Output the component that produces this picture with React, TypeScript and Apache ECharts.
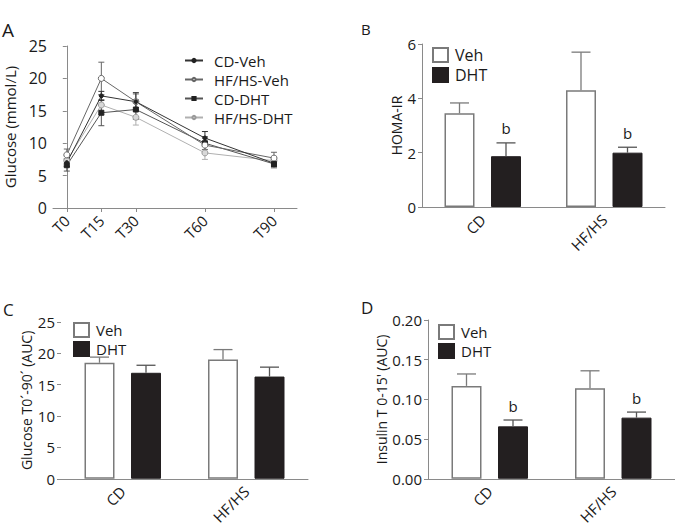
import React, { useEffect, useRef } from "react";
import * as echarts from "echarts";

// Panel A: glucose tolerance curve
const times = [0, 15, 30, 60, 90];
const timeLabels = ["T0", "T15", "T30", "T60", "T90"];
const cdVeh = [7.0, 17.3, 16.4, 10.8, 6.9];
const cdVehErr = [0.6, 0.7, 1.4, 1.0, 0.5];
const hfVeh = [8.2, 20.0, 16.4, 9.7, 7.7];
const hfVehErr = [0.9, 2.5, 1.2, 1.1, 0.9];
const cdDht = [6.6, 14.7, 15.2, 10.0, 6.8];
const cdDhtErr = [0.9, 2.0, 1.5, 1.0, 0.6];
const hfDht = [7.3, 15.9, 14.0, 8.5, 7.3];
const hfDhtErr = [0.7, 1.5, 1.2, 1.0, 0.7];

// Bar panels
const groups = ["CD", "HF/HS"];
const homaVeh = [3.45, 4.3];
const homaVehErr = [0.38, 1.4];
const homaDht = [1.87, 2.0];
const homaDhtErr = [0.49, 0.2];
const homaSig = ["b", "b"];

const gAucVeh = [18.5, 19.0];
const gAucVehErr = [0.9, 1.6];
const gAucDht = [16.9, 16.3];
const gAucDhtErr = [1.2, 1.5];
const gAucSig = ["", ""];

const insVeh = [0.117, 0.114];
const insVehErr = [0.015, 0.022];
const insDht = [0.066, 0.077];
const insDhtErr = [0.008, 0.007];
const insSig = ["b", "b"];

const FONT = "Open Sans";
const AX = "#8a8a8a";
const TXT = "#1a1a1a";

function lineErr(color: string) {
  return (params: any, api: any) => {
    const t = api.value(0);
    const v = api.value(1);
    const e = api.value(2);
    const top = api.coord([t, v + e]);
    const bot = api.coord([t, v - e]);
    const x = top[0];
    const st = { stroke: color, lineWidth: 1 };
    return {
      type: "group",
      children: [
        { type: "line", shape: { x1: x, y1: top[1], x2: x, y2: bot[1] }, style: st },
        { type: "line", shape: { x1: x - 3, y1: top[1], x2: x + 3, y2: top[1] }, style: st },
        { type: "line", shape: { x1: x - 3, y1: bot[1], x2: x + 3, y2: bot[1] }, style: st },
      ],
    };
  };
}

function barErr(offset: number, color: string, sig: string[] | null) {
  return (params: any, api: any) => {
    const c = api.value(0);
    const v = api.value(1);
    const e = api.value(2);
    const p0 = api.coord([c, v]);
    const p1 = api.coord([c, v + e]);
    const x = p0[0] + offset;
    const st = { stroke: color, lineWidth: 1.3 };
    const children: any[] = [
      { type: "line", shape: { x1: x, y1: p0[1], x2: x, y2: p1[1] }, style: st },
      { type: "line", shape: { x1: x - 9.5, y1: p1[1], x2: x + 9.5, y2: p1[1] }, style: st },
    ];
    const label = sig ? sig[params.dataIndex] : "";
    if (label) {
      children.push({
        type: "text",
        x: x,
        y: p1[1] - 7,
        style: {
          text: label,
          align: "center",
          verticalAlign: "bottom",
          fontSize: 15,
          fontFamily: FONT,
          fill: TXT,
        },
      });
    }
    return { type: "group", children };
  };
}

export default function App() {
  const ref = useRef<HTMLDivElement>(null);

  useEffect(() => {
    if (!ref.current) return;
    const chart = echarts.init(ref.current, undefined, { renderer: "svg" });

    const grids = [
      { left: 53, top: 46, width: 244, height: 162 },
      { left: 422, top: 44, width: 243, height: 163 },
      { left: 61, top: 322, width: 247, height: 161 },
      { left: 428, top: 320, width: 247, height: 162 },
    ];

    const baseY = (gi: number, min: number, max: number, interval: number, name: string, nameGap: number, fs: number, nfs: number, showLine = true, fmt?: any) => ({
      type: "value",
      gridIndex: gi,
      min,
      max,
      interval,
      name,
      nameLocation: "middle",
      nameGap,
      nameTextStyle: { fontSize: nfs, fontFamily: FONT, color: TXT },
      axisLine: { show: showLine, lineStyle: { color: AX, width: 1 } },
      axisTick: { show: true, length: 4, lineStyle: { color: AX } },
      axisLabel: { fontSize: fs, fontFamily: FONT, color: TXT, margin: 6, formatter: fmt },
      splitLine: { show: false },
    });

    const catX = (gi: number) => ({
      type: "category",
      gridIndex: gi,
      data: groups,
      axisLine: { lineStyle: { color: AX, width: 1 } },
      axisTick: { show: false },
      axisLabel: { rotate: 45, fontSize: 15, fontFamily: FONT, color: TXT, margin: 10 },
      splitLine: { show: false },
    });

    const vehStyle = { color: "#ffffff", borderColor: "#7a7a7a", borderWidth: 1.5 };
    const dhtStyle = { color: "#231f20", borderColor: "#231f20", borderWidth: 1 };

    const barPair = (gi: number, veh: number[], vehErr: number[], dht: number[], dhtErr: number[], sig: string[]) => [
      {
        type: "bar",
        name: "Veh",
        xAxisIndex: gi,
        yAxisIndex: gi,
        data: veh,
        barWidth: 30,
        barGap: "55%",
        itemStyle: vehStyle,
      },
      {
        type: "bar",
        name: "DHT",
        xAxisIndex: gi,
        yAxisIndex: gi,
        data: dht,
        barWidth: 30,
        barGap: "55%",
        itemStyle: dhtStyle,
      },
      {
        type: "custom",
        name: "errVeh" + gi,
        xAxisIndex: gi,
        yAxisIndex: gi,
        z: 5,
        renderItem: barErr(-23.25, "#7a7a7a", null),
        data: veh.map((v, i) => [i, v, vehErr[i]]),
      },
      {
        type: "custom",
        name: "errDht" + gi,
        xAxisIndex: gi,
        yAxisIndex: gi,
        z: 5,
        renderItem: barErr(23.25, "#555555", sig),
        data: dht.map((v, i) => [i, v, dhtErr[i]]),
      },
    ];

    const lineSeries = (name: string, vals: number[], errs: number[], color: string, symbol: string, size: number, symColor: string, borderColor: string) => [
      {
        type: "line",
        name,
        xAxisIndex: 0,
        yAxisIndex: 0,
        data: times.map((t, i) => [t, vals[i]]),
        symbol,
        symbolSize: size,
        lineStyle: { color, width: 1 },
        itemStyle: { color: symColor, borderColor, borderWidth: 1 },
        z: 4,
      },
      {
        type: "custom",
        name: name + "-err",
        xAxisIndex: 0,
        yAxisIndex: 0,
        renderItem: lineErr(color),
        data: times.map((t, i) => [t, vals[i], errs[i]]),
        z: 3,
      },
    ];

    const legendBar = (left: number, top: number, fs: number, gap: number) => ({
      data: ["Veh", "DHT"],
      orient: "vertical",
      left,
      top,
      icon: "rect",
      itemWidth: 15,
      itemHeight: 14,
      itemGap: gap,
      selectedMode: false,
      textStyle: { fontSize: fs, fontFamily: FONT, color: TXT, padding: [0, 0, 0, 2] },
      padding: 0,
    });

    const option: any = {
      animation: false,
      backgroundColor: "#ffffff",
      textStyle: { fontFamily: FONT },
      grid: grids,
      legend: [
        {
          data: ["CD-Veh", "HF/HS-Veh", "CD-DHT", "HF/HS-DHT"],
          orient: "vertical",
          left: 184,
          top: 53,
          itemWidth: 18,
          itemHeight: 4,
          itemGap: 4,
          selectedMode: false,
          padding: 0,
          textStyle: { fontSize: 15, lineHeight: 15, fontFamily: FONT, color: TXT, padding: [0, 0, 0, 6] },
        },
        legendBar(432, 47, 16, 4),
        legendBar(73, 322, 15, 3),
        legendBar(438, 324, 15, 3),
      ],
      xAxis: [
        {
          type: "value",
          gridIndex: 0,
          min: -6,
          max: 100,
          axisLine: { lineStyle: { color: AX, width: 1 } },
          axisTick: { show: true, length: 4, customValues: times, lineStyle: { color: AX } },
          axisLabel: {
            customValues: times,
            rotate: 45,
            fontSize: 15,
            fontFamily: FONT,
            color: TXT,
            margin: 10,
            formatter: (v: number) => timeLabels[times.indexOf(v)] ?? "",
          },
          splitLine: { show: false },
        },
        catX(1),
        catX(2),
        catX(3),
      ],
      yAxis: [
        baseY(0, 0, 25, 5, "Glucose (mmol/L)", 36, 16, 15),
        baseY(1, 0, 6, 2, "HOMA-IR", 17, 15, 14),
        baseY(2, 0, 25, 5, "Glucose T0´-90´ (AUC)", 25, 15, 14, false),
        baseY(3, 0, 0.2, 0.05, "Insulin T 0-15' (AUC)", 38, 15, 14, true, (v: number) => v.toFixed(2)),
      ],
      series: [
        ...lineSeries("HF/HS-DHT", hfDht, hfDhtErr, "#b0b0b0", "circle", 6, "#d8d8d8", "#9a9a9a"),
        ...lineSeries("CD-DHT", cdDht, cdDhtErr, "#555555", "rect", 5, "#222222", "#222222"),
        ...lineSeries("HF/HS-Veh", hfVeh, hfVehErr, "#666666", "circle", 6, "#ffffff", "#666666"),
        ...lineSeries("CD-Veh", cdVeh, cdVehErr, "#333333", "circle", 4, "#222222", "#222222"),
        ...barPair(1, homaVeh, homaVehErr, homaDht, homaDhtErr, homaSig),
        ...barPair(2, gAucVeh, gAucVehErr, gAucDht, gAucDhtErr, gAucSig),
        ...barPair(3, insVeh, insVehErr, insDht, insDhtErr, insSig),
      ],
      graphic: [
        { type: "text", left: 2, top: 20, style: { text: "A", fontSize: 19, fontFamily: FONT, fill: TXT } },
        { type: "text", left: 361, top: 21, style: { text: "B", fontSize: 15, fontFamily: FONT, fill: TXT } },
        { type: "text", left: 3, top: 301, style: { text: "C", fontSize: 17, fontFamily: FONT, fill: TXT } },
        { type: "text", left: 361, top: 299, style: { text: "D", fontSize: 17, fontFamily: FONT, fill: TXT } },
      ],
    };

    chart.setOption(option);
    return () => chart.dispose();
  }, []);

  return (
    <div
      ref={ref}
      style={{ position: "fixed", left: 0, top: 0, width: 675, height: 527, background: "#fff" }}
    />
  );
}
